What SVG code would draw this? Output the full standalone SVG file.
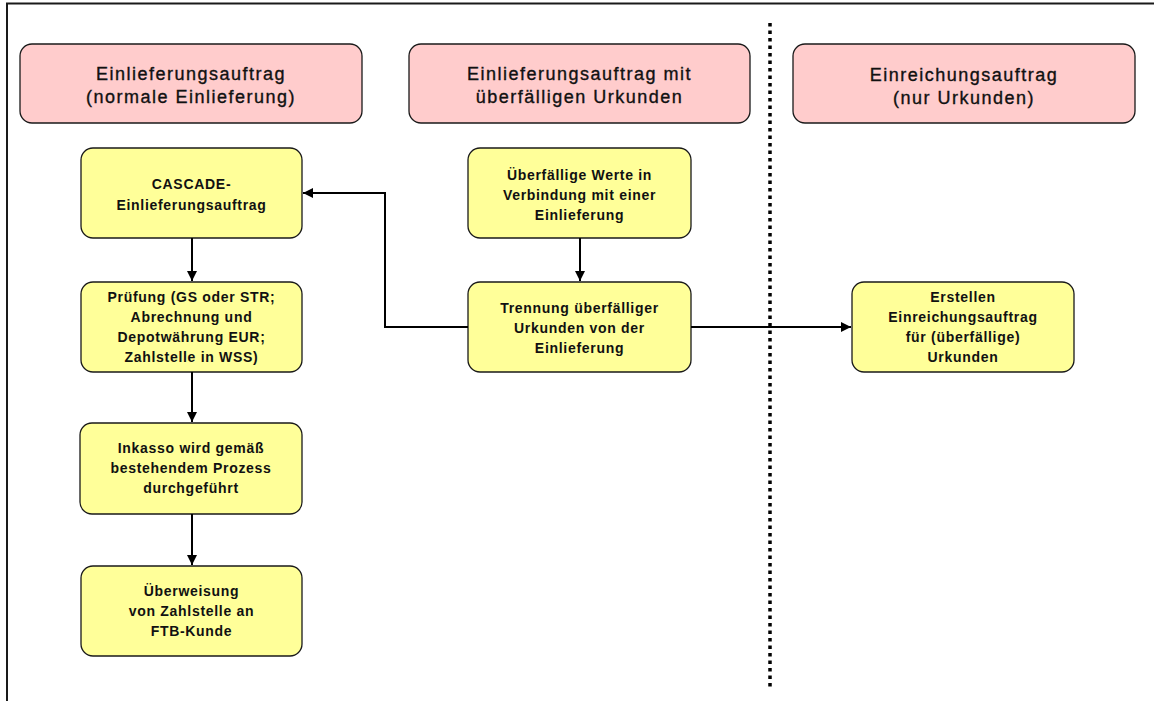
<svg xmlns="http://www.w3.org/2000/svg" width="1154" height="701" viewBox="0 0 1154 701">
<style>
.hdr rect{fill:#ffcccc;stroke:#1a1a1a;stroke-width:1.3}
.box rect{fill:#ffff99;stroke:#1a1a1a;stroke-width:1.3}
.hdr text{font-family:"Liberation Sans",Arial,sans-serif;font-size:18px;letter-spacing:1.5px;fill:#111;stroke:#111;stroke-width:0.35;text-anchor:middle}
.box text{font-family:"Liberation Sans",Arial,sans-serif;font-size:14px;font-weight:bold;letter-spacing:0.7px;fill:#111;text-anchor:middle}
.conn path{fill:none;stroke:#000;stroke-width:2}
</style>
<defs>
<marker id="ah" viewBox="0 0 10 10" refX="10" refY="5" markerWidth="5" markerHeight="5" orient="auto" markerUnits="strokeWidth">
<path d="M0,0 L10,5 L0,10 z" fill="#000"/>
</marker>
</defs>
<rect width="1154" height="701" fill="#fff"/>
<g id="frame">
<path d="M7,701 V3.5 H1154" fill="none" stroke="#1a1a1a" stroke-width="2"/>
<path d="M770,23 V688" fill="none" stroke="#000" stroke-width="3.5" stroke-dasharray="3.5,4"/>
</g>
<g class="hdr" id="h1">
<rect x="20" y="44" width="342" height="79" rx="12"/>
<text x="191" y="80">Einlieferungsauftrag</text>
<text x="191" y="103">(normale Einlieferung)</text>
</g>
<g class="hdr" id="h2">
<rect x="409" y="44" width="341" height="79" rx="12"/>
<text x="579.5" y="80">Einlieferungsauftrag mit</text>
<text x="579.5" y="103">überfälligen Urkunden</text>
</g>
<g class="hdr" id="h3">
<rect x="793" y="44" width="342" height="79" rx="12"/>
<text x="964" y="81">Einreichungsauftrag</text>
<text x="964" y="104">(nur Urkunden)</text>
</g>
<g class="box" id="n1">
<rect x="81" y="148" width="221" height="90" rx="12"/>
<text x="191.5" y="189">CASCADE-</text>
<text x="191.5" y="210">Einlieferungsauftrag</text>
</g>
<g class="box" id="n2">
<rect x="81" y="282" width="221" height="90" rx="12"/>
<text x="191.5" y="302">Prüfung (GS oder STR;</text>
<text x="191.5" y="322">Abrechnung und</text>
<text x="191.5" y="342">Depotwährung EUR;</text>
<text x="191.5" y="362">Zahlstelle in WSS)</text>
</g>
<g class="box" id="n3">
<rect x="80" y="423" width="222" height="91" rx="12"/>
<text x="191" y="453">Inkasso wird gemäß</text>
<text x="191" y="473">bestehendem Prozess</text>
<text x="191" y="493">durchgeführt</text>
</g>
<g class="box" id="n4">
<rect x="81" y="566" width="221" height="90" rx="12"/>
<text x="191.5" y="596">Überweisung</text>
<text x="191.5" y="616">von Zahlstelle an</text>
<text x="191.5" y="636">FTB-Kunde</text>
</g>
<g class="box" id="n5">
<rect x="468" y="148" width="223" height="90" rx="12"/>
<text x="579.5" y="180">Überfällige Werte in</text>
<text x="579.5" y="200">Verbindung mit einer</text>
<text x="579.5" y="220">Einlieferung</text>
</g>
<g class="box" id="n6">
<rect x="468" y="282" width="223" height="90" rx="12"/>
<text x="579.5" y="313">Trennung überfälliger</text>
<text x="579.5" y="333">Urkunden von der</text>
<text x="579.5" y="353">Einlieferung</text>
</g>
<g class="box" id="n7">
<rect x="852" y="282" width="222" height="90" rx="12"/>
<text x="963" y="302">Erstellen</text>
<text x="963" y="322">Einreichungsauftrag</text>
<text x="963" y="342">für (überfällige)</text>
<text x="963" y="362">Urkunden</text>
</g>
<g class="conn" id="connectors">
<path d="M192,238 V281" marker-end="url(#ah)"/>
<path d="M192,372 V422" marker-end="url(#ah)"/>
<path d="M192,514 V565" marker-end="url(#ah)"/>
<path d="M580,238 V281" marker-end="url(#ah)"/>
<path d="M468,327 H385 V193 H303" marker-end="url(#ah)"/>
<path d="M691,327 H851" marker-end="url(#ah)"/>
</g>
</svg>
